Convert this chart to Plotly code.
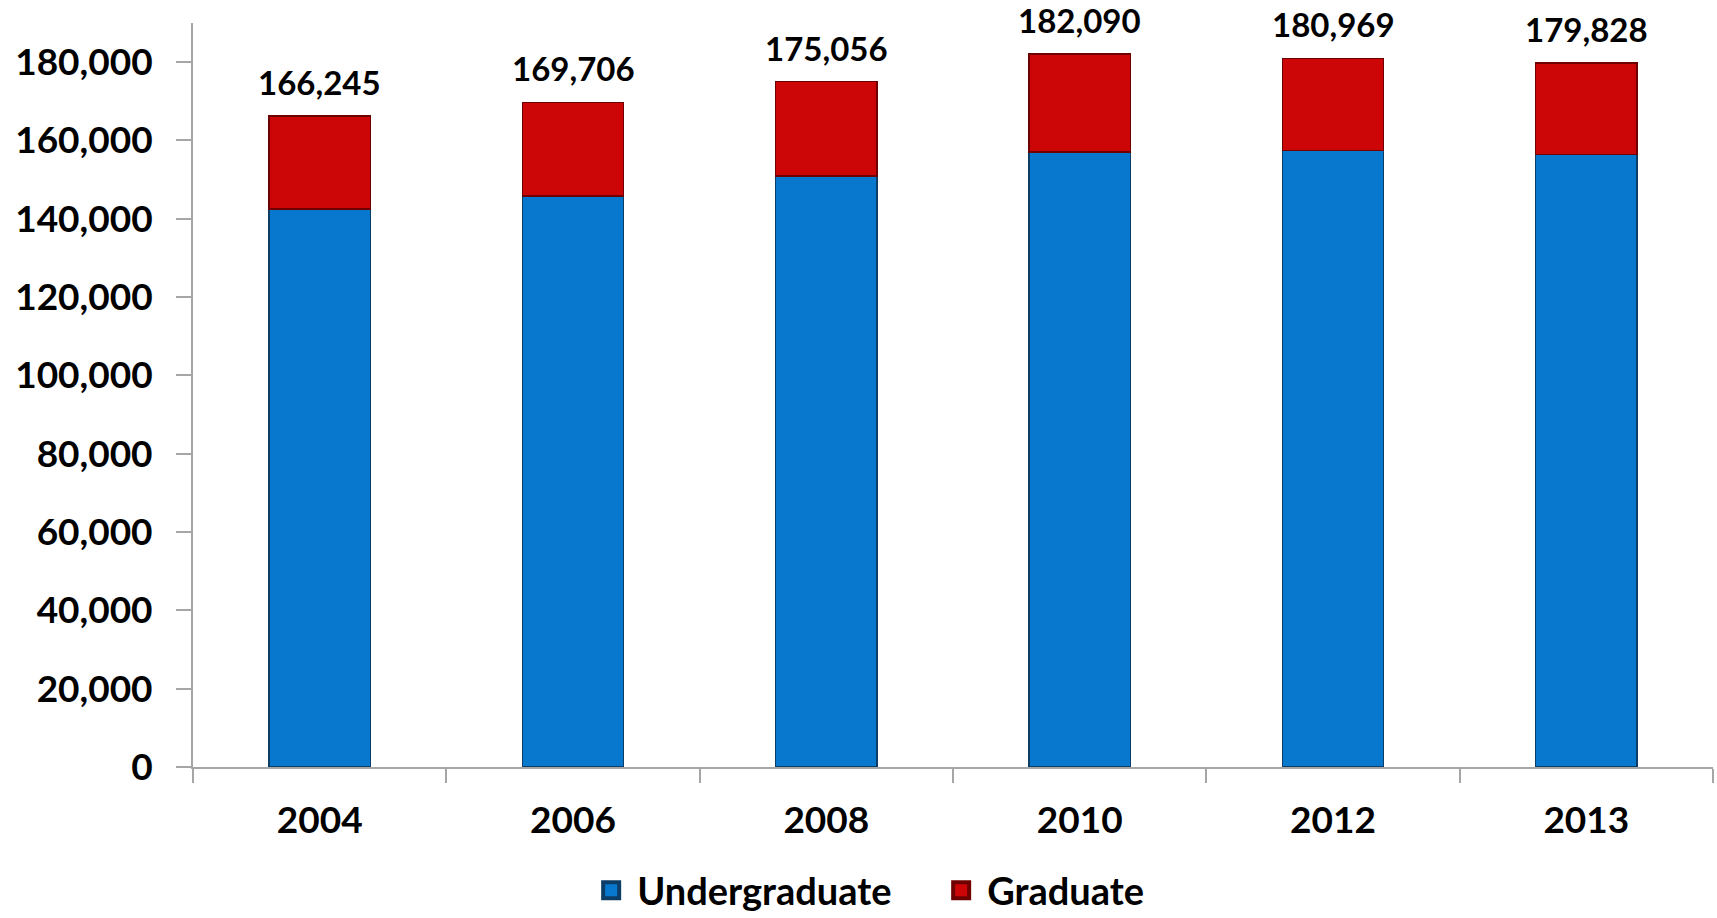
import plotly.graph_objects as go

years = ["2004", "2006", "2008", "2010", "2012", "2013"]
undergraduate = [142500, 145800, 150900, 157000, 157400, 156400]
graduate = [23745, 23906, 24156, 25090, 23569, 23428]
y_tick_vals = [0, 20000, 40000, 60000, 80000, 100000, 120000, 140000, 160000, 180000]
series_names = ["Undergraduate", "Graduate"]

totals = [u + g for u, g in zip(undergraduate, graduate)]

FONT = "Lato"
AXIS_COLOR = "#A6A6A6"
BLUE = "#0878CE"
RED = "#CC0606"
BLUE_EDGE = "#0B3D66"
RED_EDGE = "#6E0000"

fig = go.Figure()
fig.add_trace(go.Bar(
    x=years, y=undergraduate, name=series_names[0], showlegend=False,
    marker=dict(color=BLUE, line=dict(color=BLUE_EDGE, width=1.5)),
))
fig.add_trace(go.Bar(
    x=years, y=graduate, name=series_names[1], showlegend=False,
    marker=dict(color=RED, line=dict(color=RED_EDGE, width=1.5)),
))

# legend entries with larger square symbols
for name, col, edge in [(series_names[0], BLUE, BLUE_EDGE), (series_names[1], RED, RED_EDGE)]:
    fig.add_trace(go.Scatter(
        x=[None], y=[None], mode="markers", name=name,
        marker=dict(symbol="square", size=16, color=col, line=dict(color=edge, width=4)),
    ))

for i, t in enumerate(totals):
    fig.add_annotation(
        x=i, y=t, text=f"{t:,}", showarrow=False,
        yanchor="bottom", yshift=12,
        font=dict(family=FONT, size=33, color="#000000", weight="bold"),
    )

fig.update_layout(
    barmode="stack",
    bargap=0.6,
    width=1717, height=918,
    margin=dict(l=193, r=4, t=23, b=151, autoexpand=False),
    plot_bgcolor="white", paper_bgcolor="white",
    font=dict(family=FONT, color="#000000"),
    showlegend=True,
    legend=dict(
        orientation="h", x=0.258, xanchor="left", y=-0.166, yanchor="middle",
        font=dict(family=FONT, size=38, color="#000000", weight="bold"),
        traceorder="normal", itemwidth=42, entrywidth=293,
    ),
)

fig.update_xaxes(
    type="category", showgrid=False, showline=True, linecolor=AXIS_COLOR, linewidth=2,
    ticks="outside", tickson="boundaries", ticklen=14, tickcolor=AXIS_COLOR, tickwidth=2,
    tickfont=dict(family=FONT, size=37, color="#000000", weight="bold"),
    ticklabelstandoff=20, tickangle=0, automargin=False,
)
fig.update_yaxes(
    range=[0, 190000], showgrid=False, zeroline=False,
    showline=True, linecolor=AXIS_COLOR, linewidth=2,
    ticks="outside", ticklen=15, tickcolor=AXIS_COLOR, tickwidth=2,
    tickvals=y_tick_vals, tickformat=",d",
    tickfont=dict(family=FONT, size=37, color="#000000", weight="bold"),
    ticklabelstandoff=16, automargin=False,
)

fig.write_html(
    "out.html",
    config={"displayModeBar": False},
    post_script="document.body.style.margin='0';document.body.style.overflow='hidden';",
)
